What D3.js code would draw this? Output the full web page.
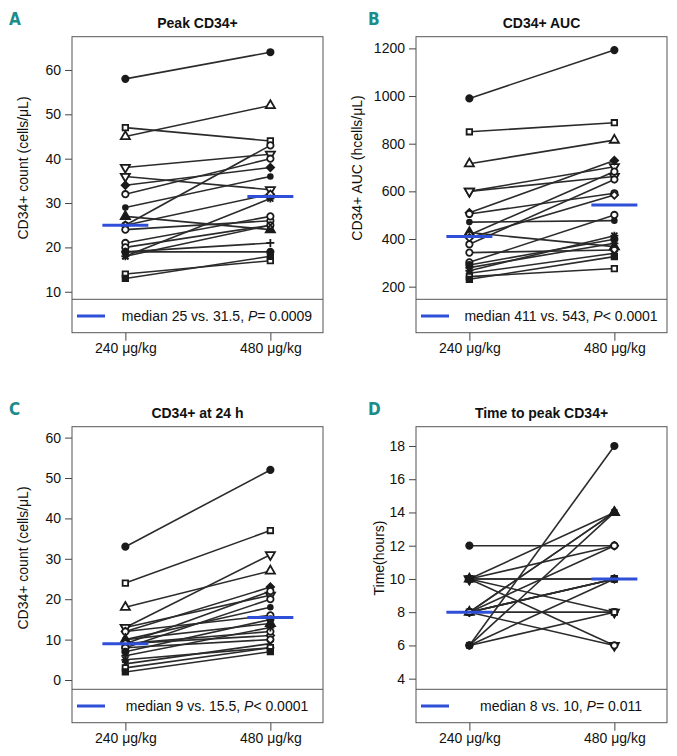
<!doctype html>
<html lang="en">
<head>
  <meta charset="utf-8">
  <title>CD34+ mobilisation, 240 vs 480</title>
  <style>
    body { margin: 0; background: #fff; }
    svg { display: block; font-family: "Liberation Sans", Arial, sans-serif; }
    .tick text { font-size: 14px; fill: #111; }
    .tick line { stroke: #444; }
  </style>
</head>
<body>
  <svg id="chart" width="677" height="756"></svg>

  <script src="https://cdn.jsdelivr.net/npm/d3@7"></script>
  <script>
    // dose groups (x categories)
    var doses = ["240 μg/kg", "480 μg/kg"];

    // one marker per donor
    var shapes = ["filledCircle", "square", "triangle", "downTri", "downTri",
                  "filledDiamond", "circle", "dot", "filledTriangle", "circle",
                  "diamond", "circle", "circle", "circle", "filledCircle",
                  "plus", "star", "cross", "square", "filledSquare"];

    // A - peak CD34+ (cells/uL)
    var peakLow  = [58, 47, 45, 38, 36, 34, 32, 29, 27, 25, 25, 24, 21, 20, 19, 19, 18, 18, 14, 13];
    var peakHigh = [64, 44, 52, 41, 33, 38, 40, 36, 24, 43, 32, 26, 27, 25, 19, 21, 31, 25, 17, 18];
    var peakTicks = [10, 20, 30, 40, 50, 60];

    // B - CD34+ AUC
    var aucLow  = [990, 850, 716, 600, 600, 510, 505, 471, 427, 417, 405, 378, 343, 302, 291, 280, 267, 256, 242, 231];
    var aucHigh = [1193, 888, 815, 703, 662, 729, 592, 477, 368, 683, 585, 650, 354, 501, 399, 382, 414, 340, 276, 326];
    var aucTicks = [200, 400, 600, 800, 1000, 1200];

    // C - CD34+ at 24 h
    var h24Low  = [33, 24, 18, 13, 13, 12, 12, 10, 10, 9, 9, 9, 8, 8, 7, 6, 5, 4, 3, 2];
    var h24High = [52, 37, 27, 31, 21, 23, 16, 18, 14, 22, 11, 12, 20, 10, 15, 13, 8, 9, 8, 7];
    var h24Ticks = [0, 10, 20, 30, 40, 50, 60];

    // D - time to peak (hours)
    var tpLow  = [12, 10, 10, 10, 10, 10, 8, 8, 8, 8, 8, 8, 8, 8, 6, 6, 6, 6, 8, 10];
    var tpHigh = [12, 10, 14, 8, 6, 12, 8, 14, 14, 12, 10, 6, 10, 10, 18, 10, 8, 14, 8, 10];
    var tpTicks = [4, 6, 8, 10, 12, 14, 16, 18];

    var pStrings = ["= 0.0009", "< 0.0001", "< 0.0001", "= 0.011"];

    var boxW = 251, plotH = 262.6, legH = 33.4;
    var blue = "#2f4fd8", teal = "#1b8c8c";

    var panels = [
      { tag: "A", title: "Peak CD34+", ylab: "CD34+ count (cells/μL)", low: peakLow, high: peakHigh,
        ticks: peakTicks, dom: [8.3, 67.5], left: 72, top: 36.7, labX: -44, p: pStrings[0] },
      { tag: "B", title: "CD34+ AUC", ylab: "CD34+ AUC (hcells/μL)", low: aucLow, high: aucHigh,
        ticks: aucTicks, dom: [147, 1249], left: 416, top: 36.7, labX: -54, p: pStrings[1] },
      { tag: "C", title: "CD34+ at 24 h", ylab: "CD34+ count (cells/μL)", low: h24Low, high: h24High,
        ticks: h24Ticks, dom: [-2.3, 62.7], left: 72, top: 426.7, labX: -44, p: pStrings[2] },
      { tag: "D", title: "Time to peak CD34+", ylab: "Time(hours)", low: tpLow, high: tpHigh,
        ticks: tpTicks, dom: [3.36, 19.16], left: 416, top: 426.7, labX: -32, p: pStrings[3] }
    ];

    var svg = d3.select("#chart");

    var x = d3.scaleLinear().domain([0.632, 2.363]).range([0, boxW]);

    function marker(type) {
      var sq = d3.symbol().type(d3.symbolSquare);
      switch (type) {
        case "circle": case "filledCircle": return d3.symbol().type(d3.symbolCircle).size(32)();
        case "dot": return d3.symbol().type(d3.symbolCircle).size(18)();
        case "square": case "filledSquare": return sq.size(30)();
        case "triangle": case "filledTriangle": case "downTri": return d3.symbol().type(d3.symbolTriangle).size(36)();
        case "diamond": case "filledDiamond": return sq.size(28)();
        case "plus": return "M-4,0H4M0,-4V4";
        case "cross": return "M-3,-3L3,3M-3,3L3,-3";
        case "star": return "M-4,0H4M0,-4V4M-3,-3L3,3M-3,3L3,-3";
      }
    }
    function rot(type) {
      if (type == "downTri") return 180;
      if (type == "diamond" || type == "filledDiamond") return 45;
      return 0;
    }
    function filled(type) {
      return type.indexOf("filled") == 0 || type == "dot";
    }

    panels.forEach(function(p) {
      var g = svg.append("g").attr("transform", "translate(" + p.left + "," + p.top + ")");
      var y = d3.scaleLinear().domain(p.dom).range([plotH, 0]);

      // y axis
      var ya = g.append("g").call(d3.axisLeft(y).tickValues(p.ticks).tickSize(7).tickPadding(4)
        .tickFormat(d3.format("d")));
      ya.select(".domain").remove();

      // x axis under legend
      var xa = g.append("g").attr("transform", "translate(0," + (plotH + legH) + ")")
        .call(d3.axisBottom(x).tickValues([1, 2]).tickSize(8).tickPadding(2)
          .tickFormat(function(d) { return doses[d - 1]; }));
      xa.select(".domain").remove();

      // paired lines
      var pairs = p.low.map(function(v, i) { return { a: v, b: p.high[i], s: shapes[i] }; });
      g.selectAll(".pair").data(pairs).join("line")
        .attr("class", "pair")
        .attr("x1", x(1)).attr("x2", x(2))
        .attr("y1", function(d) { return y(d.a); })
        .attr("y2", function(d) { return y(d.b); })
        .attr("stroke", "#2b2b2b").attr("stroke-width", 1.6);

      // markers
      [1, 2].forEach(function(k) {
        g.selectAll(".m" + k).data(pairs).join("path")
          .attr("class", "m" + k)
          .attr("d", function(d) { return marker(d.s); })
          .attr("transform", function(d) {
            return "translate(" + x(k) + "," + y(k == 1 ? d.a : d.b) + ") rotate(" + rot(d.s) + ")";
          })
          .attr("fill", function(d) { return filled(d.s) ? "#1a1a1a" : "#fff"; })
          .attr("stroke", "#1a1a1a").attr("stroke-width", 1.8);
      });

      // medians
      var meds = [d3.median(p.low), d3.median(p.high)];
      g.selectAll(".med").data(meds).join("line")
        .attr("class", "med")
        .attr("x1", function(d, i) { return x(i + 1) - 23; })
        .attr("x2", function(d, i) { return x(i + 1) + 23; })
        .attr("y1", function(d) { return y(d); })
        .attr("y2", function(d) { return y(d); })
        .attr("stroke", blue).attr("stroke-width", 3);

      // frame + legend box
      g.append("rect").attr("width", boxW).attr("height", plotH + legH)
        .attr("fill", "none").attr("stroke", "#555").attr("stroke-width", 1);
      g.append("line").attr("x1", 0).attr("x2", boxW).attr("y1", plotH).attr("y2", plotH)
        .attr("stroke", "#555").attr("stroke-width", 1);

      var ly = plotH + legH / 2;
      g.append("line").attr("x1", 5).attr("x2", 33).attr("y1", ly).attr("y2", ly)
        .attr("stroke", blue).attr("stroke-width", 3);
      var lt = g.append("text").attr("x", 145).attr("y", ly + 5)
        .attr("text-anchor", "middle").style("font-size", "14px").attr("fill", "#111");
      lt.append("tspan").text("median " + meds[0] + " vs. " + meds[1] + ", ");
      lt.append("tspan").attr("font-style", "italic").text("P");
      lt.append("tspan").text(p.p);

      // title
      g.append("text").attr("x", boxW / 2).attr("y", -9).attr("text-anchor", "middle")
        .style("font-size", "14px").style("font-weight", "bold").attr("fill", "#111")
        .text(p.title);

      // y label
      g.append("text").attr("transform", "translate(" + p.labX + "," + (plotH / 2) + ") rotate(-90)")
        .attr("text-anchor", "middle").style("font-size", "14px").attr("fill", "#111")
        .text(p.ylab);

      // panel letter
      svg.append("text")
        .attr("x", p.left < 200 ? 9 : 368)
        .attr("y", p.top - 11.7)
        .style("font-family", "'Liberation Sans Narrow', 'DejaVu Sans Condensed', sans-serif")
        .style("font-size", "17px").style("font-weight", "bold").attr("fill", teal)
        .text(p.tag);
    });
  </script>
</body>
</html>
